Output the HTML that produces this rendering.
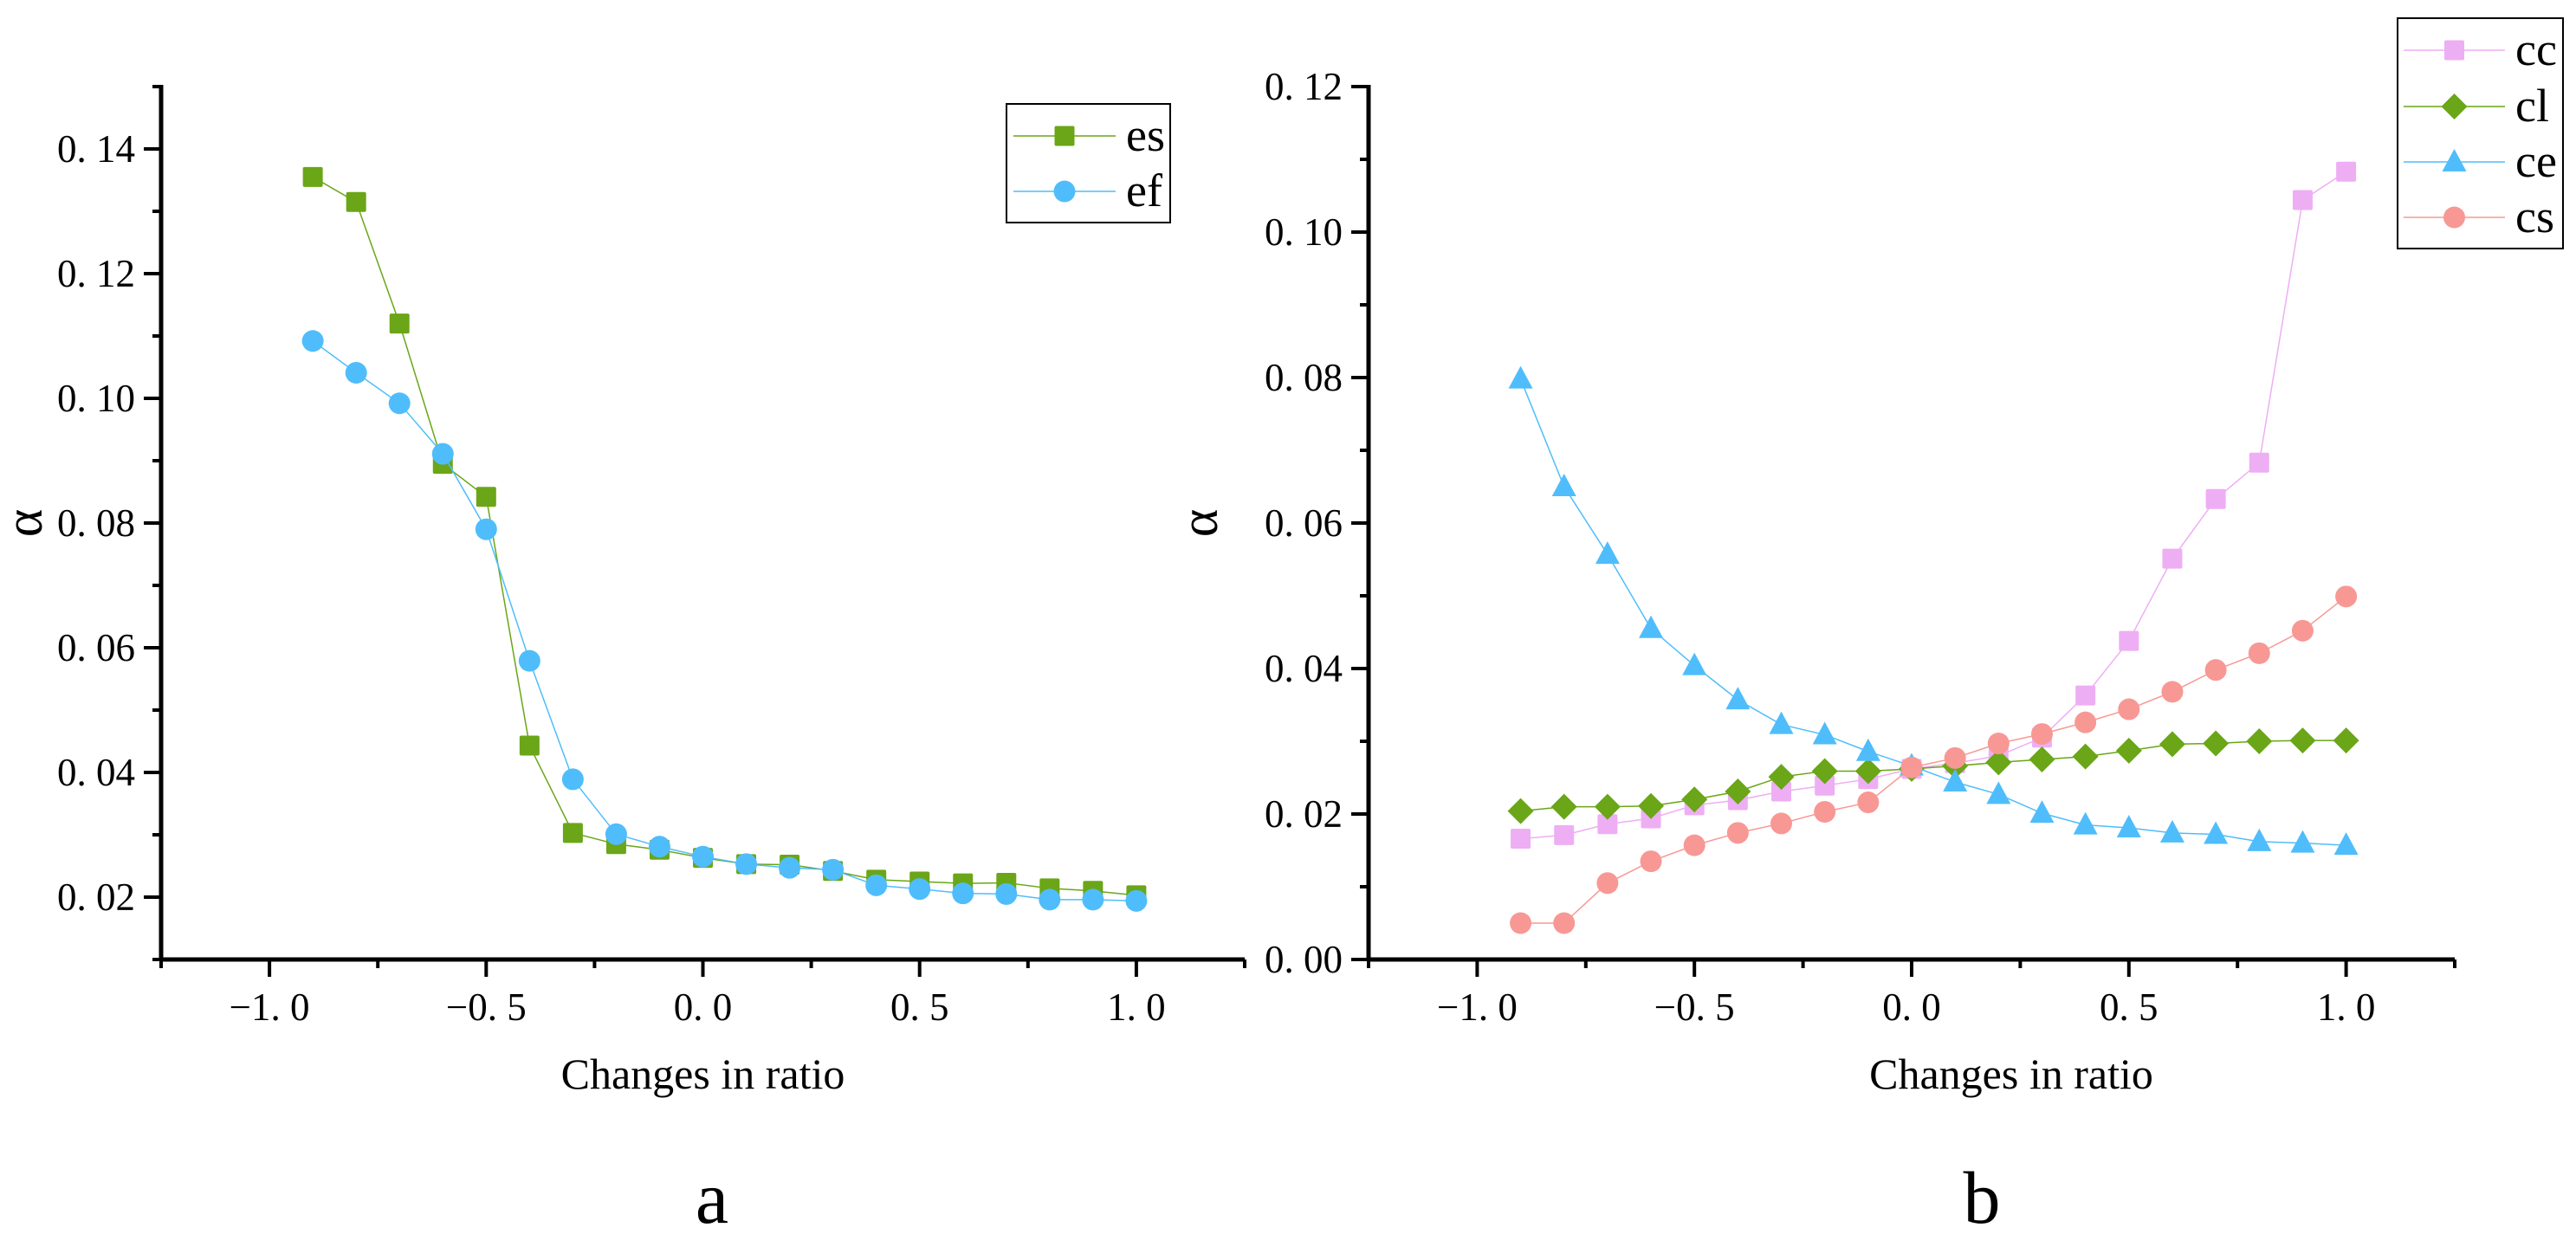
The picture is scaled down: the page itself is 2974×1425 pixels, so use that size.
<!DOCTYPE html>
<html><head><meta charset="utf-8">
<style>
html,body{margin:0;padding:0;background:#fff;}
svg{display:block;font-family:"Liberation Serif","Noto Serif CJK SC",serif;}
text{font-family:"Liberation Serif","Noto Serif CJK SC",serif;}
</style></head>
<body>
<svg id="fig" width="2974" height="1425" viewBox="0 0 2974 1425" xmlns="http://www.w3.org/2000/svg">
<rect width="2974" height="1425" fill="#fff"/>
</svg>
<script>
const xCats=[-0.9,-0.8,-0.7,-0.6,-0.5,-0.4,-0.3,-0.2,-0.1,0,0.1,0.2,0.3,0.4,0.5,0.6,0.7,0.8,0.9,1.0];
const esVals=[0.1355,0.1315,0.112,0.0895,0.0842,0.0443,0.0303,0.0285,0.0276,0.0263,0.0253,0.0252,0.0242,0.0228,0.0225,0.0222,0.0223,0.0214,0.0210,0.0203];
const efVals=[0.1092,0.1041,0.0992,0.0911,0.0790,0.0579,0.0389,0.0301,0.0281,0.0265,0.0253,0.0247,0.0244,0.0219,0.0213,0.0206,0.0205,0.0196,0.0196,0.0194];
const ccVals=[0.0166,0.0171,0.0186,0.0194,0.0212,0.0219,0.0231,0.0239,0.0248,0.0262,0.0270,0.0280,0.0305,0.0363,0.0438,0.0551,0.0633,0.0683,0.1044,0.1083];
const clVals=[0.0204,0.0210,0.0210,0.0211,0.0220,0.0231,0.0251,0.0259,0.0259,0.0262,0.0266,0.0271,0.0275,0.0279,0.0287,0.0296,0.0297,0.0300,0.0301,0.0301];
const ceVals=[0.0798,0.0650,0.0557,0.0455,0.0404,0.0357,0.0323,0.0309,0.0286,0.0266,0.0244,0.0227,0.0201,0.0185,0.0181,0.0174,0.0172,0.0162,0.0160,0.0157];
const csVals=[0.0050,0.0050,0.0105,0.0135,0.0157,0.0174,0.0187,0.0203,0.0216,0.0264,0.0277,0.0297,0.0310,0.0326,0.0344,0.0368,0.0398,0.0421,0.0452,0.0499];
const xTicks=["\u22121.0","\u22120.5","0.0","0.5","1.0"];
const xTickVals=[-1,-0.5,0,0.5,1];
const yTicksA=["0.02","0.04","0.06","0.08","0.10","0.12","0.14"];
const yTickValsA=[0.02,0.04,0.06,0.08,0.10,0.12,0.14];
const yTicksB=["0.00","0.02","0.04","0.06","0.08","0.10","0.12"];
const yTickValsB=[0,0.02,0.04,0.06,0.08,0.10,0.12];

const NS="http://www.w3.org/2000/svg";
const FF='"Liberation Serif","Noto Serif CJK SC",serif';
const svg=document.getElementById('fig');
function mk(tag,attrs,parent){const e=document.createElementNS(NS,tag);for(const k in attrs)e.setAttribute(k,attrs[k]);if(tag==='text')e.setAttribute('font-family',FF);(parent||svg).appendChild(e);return e;}
function fmt(s){return s.replace('.', '. ');}

function panel(opt){
  const g=mk('g',{});
  
  
  const x0=opt.left,x1=opt.right,yb=1108,yt=100;
  const sx=v=>x0+(v-(-1.25))/(2.5)*(x1-x0);
  const sy=v=>yb-(v-opt.ymin)/(opt.ymax-opt.ymin)*(yb-yt);
  const ax=mk('line',{x1:x0,y1:yt-2,x2:x0,y2:yb+2,stroke:'#000','stroke-width':5},g);
  
  const bx=mk('line',{x1:x0-2,y1:yb,x2:x1,y2:yb,stroke:'#000','stroke-width':5},g);
  
  for(let v=-1.25;v<=1.2501;v+=0.25){
    const major=Math.abs(v*2-Math.round(v*2))<1e-6;
    mk('line',{x1:sx(v),y1:yb,x2:sx(v),y2:yb+(major?20:10),stroke:'#000','stroke-width':4},g);
  }
  xTickVals.forEach((v,i)=>{
    const t=mk('text',{x:sx(v),y:1178,'font-size':45,'text-anchor':'middle'},g);
    t.textContent=fmt(xTicks[i]);
    
  });
  for(let v=opt.ymin;v<=opt.ymax+1e-9;v+=0.01){
    const major=yTickValsB.concat(yTickValsA).some(q=>Math.abs(q-v)<1e-6);
    mk('line',{x1:x0,y1:sy(v),x2:x0-(major?20:10),y2:sy(v),stroke:'#000','stroke-width':4},g);
  }
  opt.yTickVals.forEach((v,i)=>{
    const t=mk('text',{x:x0-30,y:sy(v)+15,'font-size':45,'text-anchor':'end'},g);
    t.textContent=fmt(opt.yTicks[i]);
    
  });
  opt.series.forEach(s=>{
    const sg=mk('g',{},g);
    
    const pts=xCats.map((c,i)=>sx(c)+','+sy(s.vals[i])).join(' ');
    mk('polyline',{points:pts,fill:'none',stroke:s.color,'stroke-width':1.5},sg);
    xCats.forEach((c,i)=>{const m=marker(s.shape,sx(c),sy(s.vals[i]),s.color,sg);
      });
  });
  const xt=mk('text',{x:(sx(-1)+sx(1))/2+opt.xtOff,y:1257,'font-size':50,'text-anchor':'middle'},g);
  xt.textContent='Changes in ratio';
  
  const yt2=mk('text',{x:opt.alphaX,y:604,'font-size':62,'text-anchor':'middle',transform:`rotate(-90 ${opt.alphaX} 604)`,'dominant-baseline':'middle'},g);
  yt2.textContent='\u03b1';
  
  const pl=mk('text',{x:opt.labelX,y:1412,'font-size':86,'text-anchor':'middle'},g);
  pl.textContent=opt.panelLabel;
  
  const lg=mk('g',{},g);
  
  const L=opt.legend;
  mk('rect',{x:L.x,y:L.y,width:L.w,height:L.h,fill:'#fff',stroke:'#000','stroke-width':2},lg);
  opt.series.forEach((s,i)=>{
    const eg=mk('g',{},lg);
    
    const yy=L.ys[i];
    mk('line',{x1:L.lx0,y1:yy,x2:L.lx1,y2:yy,stroke:s.color,'stroke-width':1.5},eg);
    marker(s.shape,(L.lx0+L.lx1)/2,yy,s.color,eg);
    const t=mk('text',{x:L.tx,y:yy+17,'font-size':54},eg);t.textContent=s.label;
  });
}
function marker(shape,x,y,c,p){
  if(shape==='square')return mk('rect',{x:x-11.5,y:y-11.5,width:23,height:23,rx:2,fill:c},p);
  if(shape==='circle')return mk('circle',{cx:x,cy:y,r:12.5,fill:c},p);
  if(shape==='diamond')return mk('polygon',{points:`${x},${y-15} ${x+15},${y} ${x},${y+15} ${x-15},${y}`,fill:c},p);
  return mk('polygon',{points:`${x},${y-15} ${x+14},${y+11} ${x-14},${y+11}`,fill:c},p);
}
panel({name:'chart-a',left:186,right:1437,ymin:0.01,ymax:0.15,yTicks:yTicksA,yTickVals:yTickValsA,
  xtOff:0,alphaX:34,labelX:822,panelLabel:'a',
  series:[{label:'es',vals:esVals,color:'#6aa617',shape:'square'},{label:'ef',vals:efVals,color:'#4fbdfb',shape:'circle'}],
  legend:{x:1162,y:120,w:189,h:137,ys:[157,221],lx0:1170,lx1:1288,tx:1300}});
panel({name:'chart-b',left:1580,right:2834,ymin:0,ymax:0.12,yTicks:yTicksB,yTickVals:yTickValsB,
  xtOff:115,alphaX:1391,labelX:2288,panelLabel:'b',
  series:[{label:'cc',vals:ccVals,color:'#eeaef4',shape:'square'},{label:'cl',vals:clVals,color:'#6aa617',shape:'diamond'},
          {label:'ce',vals:ceVals,color:'#4fbdfb',shape:'triangle'},{label:'cs',vals:csVals,color:'#f89894',shape:'circle'}],
  legend:{x:2768,y:21,w:191,h:266,ys:[58,123,187,251],lx0:2775,lx1:2892,tx:2904}});
</script>
</body></html>
